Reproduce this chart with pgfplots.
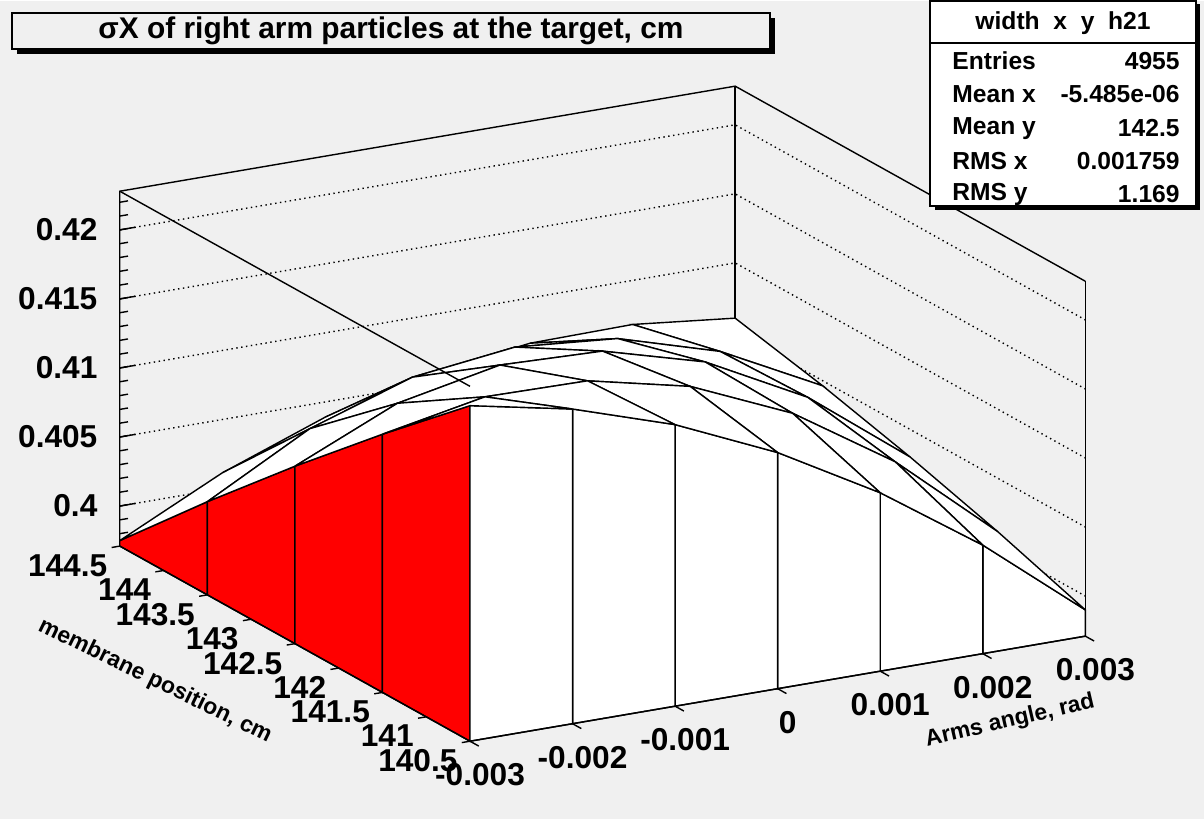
\documentclass[border=0pt]{standalone}
\usepackage{pgfplots}
\pgfplotsset{compat=1.18}
\usepackage{fontspec}
\setmainfont{Liberation Sans}
\usetikzlibrary{calc,backgrounds}
\definecolor{bg}{RGB}{240,240,240}
\newcommand\Px[2]{($(fl)+({(#1-470)*0.01cm},{(740-#2)*0.01cm})$)}
\begin{document}
\begin{tikzpicture}[font=\bfseries]
\begin{axis}[x={(1.025cm,0.175cm)}, y={(-0.875cm,0.4875cm)}, z={(0cm,0.138cm)},
  xmin=-3,xmax=3,ymin=140.5,ymax=144.5,zmin=-2.9,zmax=22.8, hide axis, clip=false]
\coordinate (fl) at (axis cs:-3,140.5,-2.9);
% back grid
\pgfplotsinvokeforeach{0,5,10,15,20}{\draw[densely dotted] (axis cs:-3,144.5,#1)--(axis cs:3,144.5,#1)--(axis cs:3,140.5,#1);
  \draw (axis cs:-3,144.5,#1)--(axis cs:-2.85,144.5,#1);}
\draw (axis cs:-3,144.5,-2.9)--(axis cs:-3,144.5,22.8)--(axis cs:3,144.5,22.8)--(axis cs:3,140.5,22.8);
\draw (axis cs:3,144.5,22.8)--(axis cs:3,144.5,-2.9);
\pgfplotsinvokeforeach{-2,...,22}{\draw (axis cs:-3,144.5,#1)--(axis cs:-2.92,144.5,#1);}
\node[anchor=east,font=\fontsize{9}{10}\bfseries] at ([xshift=-0.1cm]axis cs:-3,144.5,0) {0.4};
\node[anchor=east,font=\fontsize{9}{10}\bfseries] at ([xshift=-0.1cm]axis cs:-3,144.5,5) {0.405};
\node[anchor=east,font=\fontsize{9}{10}\bfseries] at ([xshift=-0.1cm]axis cs:-3,144.5,10) {0.41};
\node[anchor=east,font=\fontsize{9}{10}\bfseries] at ([xshift=-0.1cm]axis cs:-3,144.5,15) {0.415};
\node[anchor=east,font=\fontsize{9}{10}\bfseries] at ([xshift=-0.1cm]axis cs:-3,144.5,20) {0.42};
% left red wall
\addplot3[surf, shader=faceted, faceted color=black, colormap={r}{color=(red) color=(red)}, mesh/cols=5] coordinates {
(-3,140.5,-2.9) (-3,141.5,-2.9) (-3,142.5,-2.9) (-3,143.5,-2.9) (-3,144.5,-2.9)
(-3,140.5,21.4) (-3,141.5,15.8) (-3,142.5,9.95) (-3,143.5,3.85) (-3,144.5,-2.5)};
% front white wall
\addplot3[surf, shader=faceted, faceted color=black, colormap={w}{color=(white) color=(white)}, mesh/cols=7] coordinates {
(-3,140.5,-2.9) (-2,140.5,-2.9) (-1,140.5,-2.9) (0,140.5,-2.9) (1,140.5,-2.9) (2,140.5,-2.9) (3,140.5,-2.9)
(-3,140.5,21.4) (-2,140.5,19.89) (-1,140.5,17.49) (0,140.5,14.2) (1,140.5,10.02) (2,140.5,4.96) (3,140.5,-1.0)};
% top surface
\addplot3[surf, shader=faceted, faceted color=black, colormap={w2}{color=(white) color=(white)}, mesh/cols=7, z buffer=sort] table {
x y z
-3 140.5 21.4
-2 140.5 19.89
-1 140.5 17.49
0 140.5 14.2
1 140.5 10.02
2 140.5 4.96
3 140.5 -1.0
-3 141.5 15.8
-2 141.5 17.24
-1 141.5 17.13
0 141.5 15.46
1 141.5 12.24
2 141.5 7.46
3 141.5 1.13
-3 142.5 9.95
-2 142.5 13.24
-1 142.5 14.74
0 142.5 14.48
1 142.5 12.43
2 142.5 8.60
3 142.5 3.0
-3 143.5 3.85
-2 143.5 7.87
-1 143.5 10.33
0 143.5 11.24
1 143.5 10.59
2 143.5 8.39
3 143.5 4.63
-3 144.5 -2.5
-2 144.5 1.14
-1 144.5 3.89
0 144.5 5.75
1 144.5 6.72
2 144.5 6.81
3 144.5 6.0
};
% front edges
\draw (axis cs:-3,144.5,22.8)--(axis cs:-3,140.5,22.8);
\draw (axis cs:3,140.5,-2.9)--(axis cs:3,140.5,22.8);
\draw (axis cs:-3,144.5,-2.9)--(axis cs:-3,140.5,-2.9)--(axis cs:3,140.5,-2.9);
\pgfplotsinvokeforeach{-3,...,3}{\draw (axis cs:#1,140.5,-2.9)--(axis cs:#1,140.4,-2.9);}
\node[anchor=north,font=\fontsize{9}{10}\bfseries] at ([yshift=-0.1cm,xshift=0.1cm]axis cs:-3,140.5,-2.9) {-0.003};
\node[anchor=north,font=\fontsize{9}{10}\bfseries] at ([yshift=-0.1cm,xshift=0.1cm]axis cs:-2,140.5,-2.9) {-0.002};
\node[anchor=north,font=\fontsize{9}{10}\bfseries] at ([yshift=-0.1cm,xshift=0.1cm]axis cs:-1,140.5,-2.9) {-0.001};
\node[anchor=north,font=\fontsize{9}{10}\bfseries] at ([yshift=-0.1cm,xshift=0.1cm]axis cs:0,140.5,-2.9) {0};
\node[anchor=north,font=\fontsize{9}{10}\bfseries] at ([yshift=-0.1cm,xshift=0.1cm]axis cs:1,140.5,-2.9) {0.001};
\node[anchor=north,font=\fontsize{9}{10}\bfseries] at ([yshift=-0.1cm,xshift=0.1cm]axis cs:2,140.5,-2.9) {0.002};
\node[anchor=north,font=\fontsize{9}{10}\bfseries] at ([yshift=-0.1cm,xshift=0.1cm]axis cs:3,140.5,-2.9) {0.003};
\pgfplotsinvokeforeach{140.5,141,141.5,142,142.5,143,143.5,144,144.5}{
  \draw (axis cs:-3,#1,-2.9)--(axis cs:-3.08,#1,-2.9);
  \node[anchor=north east,font=\fontsize{9}{10}\bfseries] at ([xshift=0.05cm,yshift=0.05cm]axis cs:-3.05,#1,-2.9) {#1};}
\end{axis}
\begin{scope}[on background layer]
\fill[bg] \Px{0}{0} rectangle \Px{1204}{818};
\end{scope}
\node[rotate=-26,font=\fontsize{6.5}{7}\bfseries] at \Px{155}{680} {membrane position, cm};
\node[rotate=13,font=\fontsize{6.5}{7}\bfseries] at \Px{1010}{720} {Arms angle, rad};
% title box
\fill[black] \Px{17}{17} rectangle \Px{775}{53};
\filldraw[fill=bg,draw=black] \Px{12}{12} rectangle \Px{770}{48};
\node[font=\fontsize{8.5}{10}\bfseries] at \Px{391}{30} {σX of right arm particles at the target, cm};
% stats box
\fill[black] \Px{935}{3} rectangle \Px{1200}{209};
\filldraw[fill=white,draw=black] \Px{930}{0} rectangle \Px{1196}{205};
\draw \Px{930}{42}--\Px{1196}{42};
\node[font=\fontsize{7}{8}\bfseries] at \Px{1063}{22} {width\ \ x\ \ y\ \ h21};
\node[anchor=west,font=\fontsize{7}{8}\bfseries] at \Px{940}{60} {Entries};
\node[anchor=east,font=\fontsize{7}{8}\bfseries] at \Px{1192}{60} {4955};
\node[anchor=west,font=\fontsize{7}{8}\bfseries] at \Px{940}{93} {Mean x};
\node[anchor=east,font=\fontsize{7}{8}\bfseries] at \Px{1192}{93} {-5.485e-06};
\node[anchor=west,font=\fontsize{7}{8}\bfseries] at \Px{940}{127} {Mean y};
\node[anchor=east,font=\fontsize{7}{8}\bfseries] at \Px{1192}{127} {142.5};
\node[anchor=west,font=\fontsize{7}{8}\bfseries] at \Px{940}{160} {RMS x};
\node[anchor=east,font=\fontsize{7}{8}\bfseries] at \Px{1192}{160} {0.001759};
\node[anchor=west,font=\fontsize{7}{8}\bfseries] at \Px{940}{193} {RMS y};
\node[anchor=east,font=\fontsize{7}{8}\bfseries] at \Px{1192}{193} {1.169};
\path[use as bounding box] \Px{0}{0} rectangle \Px{1204}{818};
\end{tikzpicture}
\end{document}
